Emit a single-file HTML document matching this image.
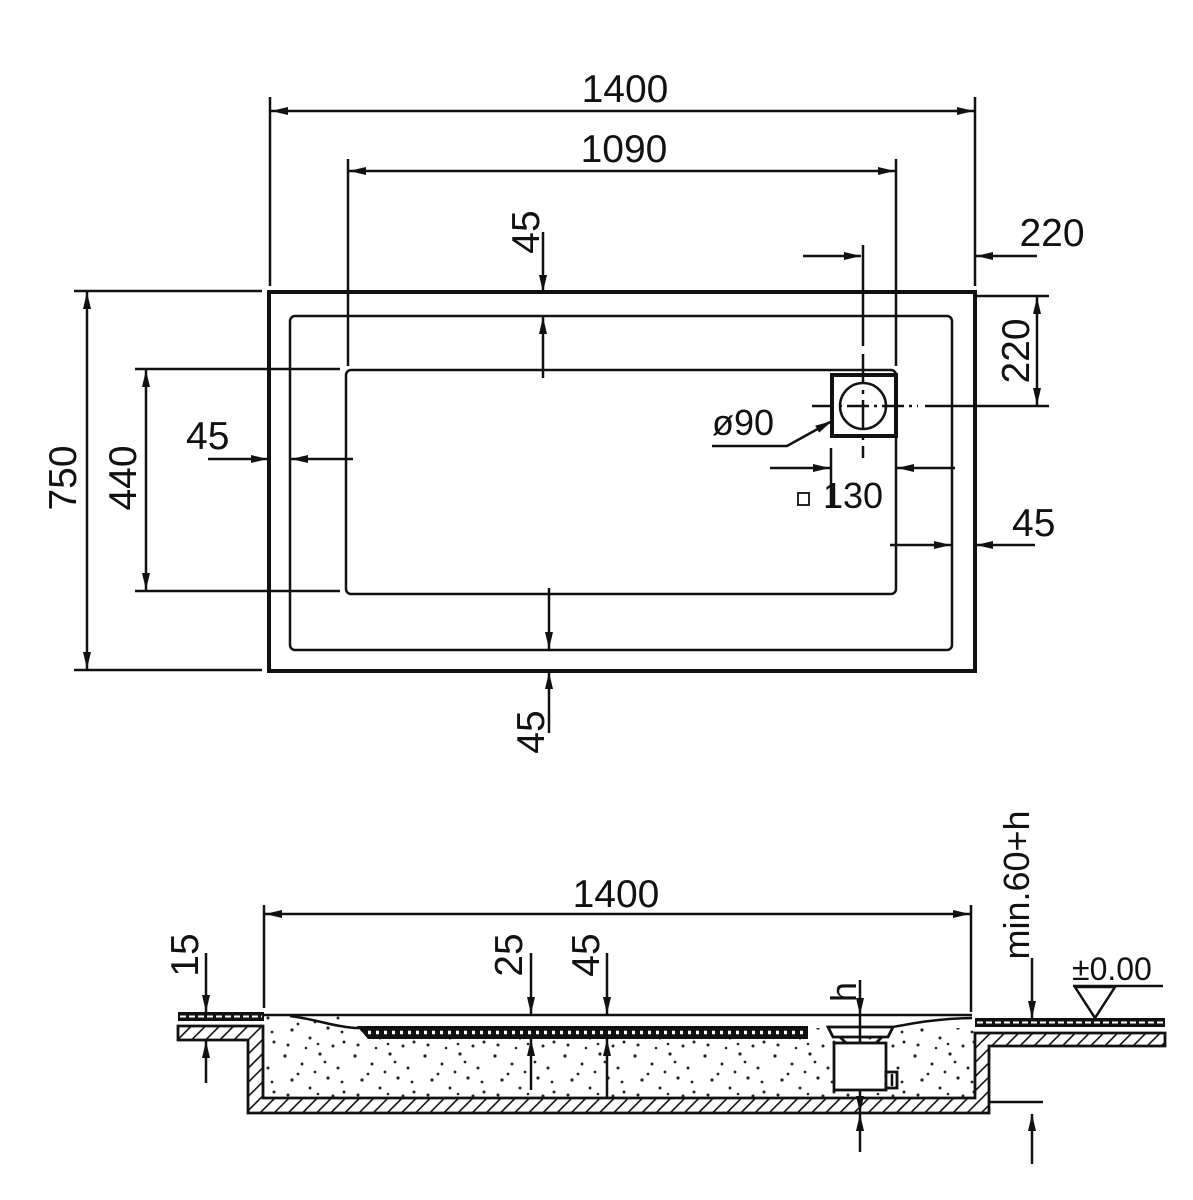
<!DOCTYPE html>
<html><head><meta charset="utf-8"><style>
html,body{margin:0;padding:0;background:#fff;}
svg{display:block;}
text{font-family:"Liberation Sans",sans-serif;fill:#111;}
</style></head><body>
<svg width="1193" height="1200" viewBox="0 0 1193 1200" xmlns="http://www.w3.org/2000/svg">
<defs>
<marker id="a" viewBox="0 0 17 8" refX="17" refY="4" markerWidth="17" markerHeight="8" markerUnits="userSpaceOnUse" orient="auto-start-reverse"><path d="M0,0 L17,4 L0,8 z" fill="#111"/></marker>
<pattern id="h" width="10" height="10" patternUnits="userSpaceOnUse" patternTransform="rotate(45)"><rect width="10" height="10" fill="#fff"/><line x1="0" y1="0" x2="0" y2="10" stroke="#111" stroke-width="3.2"/></pattern>
<pattern id="d" width="70" height="50" patternUnits="userSpaceOnUse">
<g fill="#222"><circle cx="5" cy="6" r="1.6"/><circle cx="22" cy="14" r="1.5"/><circle cx="40" cy="4" r="1.6"/><circle cx="58" cy="18" r="1.5"/><circle cx="12" cy="30" r="1.6"/><circle cx="30" cy="38" r="1.5"/><circle cx="48" cy="28" r="1.6"/><circle cx="64" cy="42" r="1.5"/><circle cx="8" cy="45" r="1.5"/><circle cx="35" cy="22" r="1.4"/><circle cx="53" cy="46" r="1.5"/><circle cx="26" cy="48" r="1.3"/><circle cx="45" cy="12" r="1.4"/><circle cx="18" cy="24" r="1.4"/><circle cx="62" cy="32" r="1.4"/><circle cx="38" cy="44" r="1.3"/></g></pattern>
</defs>
<g stroke="#111" fill="none" stroke-width="2.5">
<rect x="269" y="292" width="706" height="379" stroke-width="4"/>
<rect x="290" y="316" width="662" height="334" rx="5"/>
<rect x="346" y="370" width="550" height="224" rx="5"/>
<line x1="270" y1="97" x2="270" y2="286"/>
<line x1="975" y1="97" x2="975" y2="286"/>
<line x1="271" y1="111" x2="974" y2="111" marker-start="url(#a)" marker-end="url(#a)"/>
<line x1="348" y1="159" x2="348" y2="366"/>
<line x1="896" y1="159" x2="896" y2="366"/>
<line x1="349" y1="171" x2="895" y2="171" marker-start="url(#a)" marker-end="url(#a)"/>
<line x1="74" y1="291" x2="262" y2="291"/>
<line x1="74" y1="670" x2="262" y2="670"/>
<line x1="87" y1="292" x2="87" y2="669" marker-start="url(#a)" marker-end="url(#a)"/>
<line x1="135" y1="369" x2="340" y2="369"/>
<line x1="135" y1="591" x2="340" y2="591"/>
<line x1="146" y1="370" x2="146" y2="590" marker-start="url(#a)" marker-end="url(#a)"/>
<line x1="543" y1="232" x2="543" y2="292" marker-end="url(#a)"/>
<line x1="543" y1="378" x2="543" y2="317" marker-end="url(#a)"/>
<line x1="549" y1="588" x2="549" y2="649" marker-end="url(#a)"/>
<line x1="549" y1="733" x2="549" y2="672" marker-end="url(#a)"/>
<line x1="208" y1="459" x2="268" y2="459" marker-end="url(#a)"/>
<line x1="353" y1="459" x2="291" y2="459" marker-end="url(#a)"/>
<line x1="803" y1="256" x2="861" y2="256" marker-end="url(#a)"/>
<line x1="1037" y1="256" x2="976" y2="256" marker-end="url(#a)"/>
<line x1="863" y1="245" x2="863" y2="346" />
<line x1="863" y1="354" x2="863" y2="458" stroke-dasharray="30,6,4,6"/>
<line x1="976" y1="296" x2="1049" y2="296"/>
<line x1="812" y1="406" x2="918" y2="406" stroke-dasharray="22,5,3,5"/>
<line x1="925" y1="406" x2="1049" y2="406"/>
<line x1="1037" y1="297" x2="1037" y2="405" marker-start="url(#a)" marker-end="url(#a)"/>
<rect x="832" y="375" width="64" height="61" stroke-width="4"/>
<circle cx="863" cy="406" r="23"/>
<polyline points="712,446 787,446 832,421" marker-end="url(#a)"/>
<line x1="831" y1="448" x2="831" y2="508"/>
<line x1="770" y1="468" x2="830" y2="468" marker-end="url(#a)"/>
<line x1="955" y1="468" x2="897" y2="468" marker-end="url(#a)"/>
<rect x="798" y="493" width="11" height="12" stroke-width="1.8"/>
<line x1="890" y1="545" x2="951" y2="545" marker-end="url(#a)"/>
<line x1="1035" y1="545" x2="976" y2="545" marker-end="url(#a)"/>
</g>
<g font-size="39">
<text x="625" y="102" text-anchor="middle">1400</text>
<text x="624" y="162" text-anchor="middle">1090</text>
<text x="1052" y="246" text-anchor="middle">220</text>
<text x="186" y="449">45</text>
<text x="1012" y="536">45</text>
<text x="712" y="435" font-size="36">ø90</text>
<text x="823" y="508" font-size="36">130</text>
<text transform="translate(76,478) rotate(-90)" text-anchor="middle">750</text>
<text transform="translate(136,478) rotate(-90)" text-anchor="middle">440</text>
<text transform="translate(539,232) rotate(-90)" text-anchor="middle">45</text>
<text transform="translate(544,732) rotate(-90)" text-anchor="middle">45</text>
<text transform="translate(1029,351) rotate(-90)" text-anchor="middle">220</text>
</g>

<rect x="264" y="1028" width="710" height="70" fill="url(#d)"/>
<path d="M264,1016 L380,1017 L355,1028 L264,1028 z" fill="url(#d)"/>
<path d="M178,1026 L263,1026 L263,1098 L975,1098 L975,1033 L1165,1033 L1165,1046 L989,1046 L989,1113 L248,1113 L248,1040 L178,1040 z" fill="url(#h)" stroke="#111" stroke-width="2.8"/>
<rect x="178" y="1012" width="86" height="9" fill="#111"/>
<line x1="180" y1="1016.5" x2="262" y2="1016.5" stroke="#fff" stroke-width="2" stroke-dasharray="6,3"/>
<rect x="975" y="1018" width="190" height="9" fill="#111"/>
<line x1="977" y1="1022.5" x2="1163" y2="1022.5" stroke="#fff" stroke-width="2" stroke-dasharray="6,3"/>
<g stroke="#111" fill="none" stroke-width="2.5">
<line x1="264" y1="1015" x2="972" y2="1015"/>
<path d="M290,1016 C320,1020 330,1026 355,1028 L806,1028"/>
<path d="M882,1029 C910,1024 930,1019 972,1018"/>
</g>
<path d="M357,1026 L808,1026 L808,1039 L368,1039 z" fill="#111"/>
<line x1="368" y1="1032.5" x2="806" y2="1032.5" stroke="#fff" stroke-width="3.5" stroke-dasharray="3,5"/>
<g stroke="#111" stroke-width="2.8" fill="#fff">
<path d="M828,1027 L893,1027 L888,1037 L833,1037 z"/>
<path d="M840,1037 L846,1043 L876,1043 L882,1037" fill="none"/>
<rect x="834" y="1043" width="52" height="47"/>
<rect x="886" y="1072" width="11" height="16"/>
</g>
<line x1="892" y1="1074" x2="892" y2="1086" stroke="#111" stroke-width="2.5"/>
<g stroke="#111" fill="none" stroke-width="2.5">
<line x1="264" y1="905" x2="264" y2="1008"/>
<line x1="971" y1="905" x2="971" y2="1012"/>
<line x1="265" y1="914" x2="970" y2="914" marker-start="url(#a)" marker-end="url(#a)"/>
<line x1="206" y1="953" x2="206" y2="1012" marker-end="url(#a)"/>
<line x1="206" y1="1083" x2="206" y2="1041" marker-end="url(#a)"/>
<line x1="531" y1="953" x2="531" y2="1014" marker-end="url(#a)"/>
<line x1="531" y1="1090" x2="531" y2="1039" marker-end="url(#a)"/>
<line x1="607" y1="953" x2="607" y2="1014" marker-end="url(#a)"/>
<line x1="607" y1="1098" x2="607" y2="1039" marker-end="url(#a)"/>
<line x1="860" y1="980" x2="860" y2="1015" marker-end="url(#a)"/>
<line x1="860" y1="1015" x2="860" y2="1043"/>
<line x1="860" y1="1090" x2="860" y2="1113" marker-end="url(#a)"/>
<line x1="860" y1="1152" x2="860" y2="1114" marker-end="url(#a)"/>
<line x1="1032" y1="958" x2="1032" y2="1018" marker-end="url(#a)"/>
<line x1="990" y1="1102" x2="1043" y2="1102"/>
<line x1="1032" y1="1164" x2="1032" y2="1114" marker-end="url(#a)"/>
<line x1="1073" y1="986" x2="1163" y2="986"/>
<path d="M1075,987 L1115,987 L1095,1018 z"/>
</g>
<g font-size="39">
<text x="616" y="907" text-anchor="middle">1400</text>
<text transform="translate(198,955) rotate(-90)" text-anchor="middle">15</text>
<text transform="translate(522,955) rotate(-90)" text-anchor="middle">25</text>
<text transform="translate(599,955) rotate(-90)" text-anchor="middle">45</text>
<text transform="translate(856,992) rotate(-90)" text-anchor="middle" font-size="36">h</text>
<text transform="translate(1029,885) rotate(-90)" text-anchor="middle" font-size="36">min.60+h</text>
<text x="1072" y="980" font-size="32">±0.00</text>
</g>
</svg>
</body></html>
